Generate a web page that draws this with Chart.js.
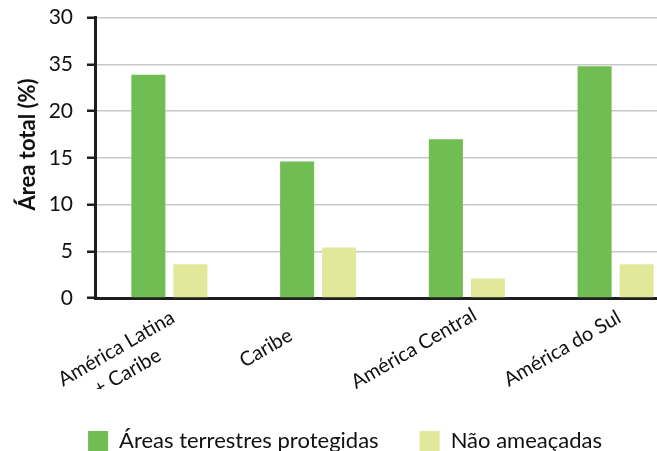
<!DOCTYPE html>
<html>
<head>
<meta charset="utf-8">
<script src="https://cdn.jsdelivr.net/npm/chart.js@4.4.1/dist/chart.umd.min.js"></script>
<style>
html,body{margin:0;padding:0;background:#fff;overflow:hidden;}
#wrap{position:absolute;left:0;top:0;width:692px;height:462px;}
</style>
</head>
<body>
<div id="wrap"><canvas id="c"></canvas></div>
<script>
const categories = [['América Latina', '+ Caribe'], 'Caribe', 'América Central', 'América do Sul'];
const protegidas = [23.9, 14.6, 17.0, 24.8];
const naoAmeacadas = [3.6, 5.4, 2.1, 3.6];
const yTickLabels = ['0', '5', '10', '15', '20', '35', '30'];
const seriesNames = ['Áreas terrestres protegidas', 'Não ameaçadas'];
const yTitle = 'Área total (%)';

const FONT = 'Lato';
const X_FONT_SIZE = 20;
const dark = '#1e1e1e';

// Centre each category label line (the source centres its rotated labels),
// by padding lines to a common width, since Chart.js right-aligns rotated text.
const mctx = document.createElement('canvas').getContext('2d');
mctx.font = X_FONT_SIZE + 'px ' + FONT;
const allLines = categories.flatMap(c => Array.isArray(c) ? c : [c]);
const maxW = Math.max(...allLines.map(s => mctx.measureText(s).width));
const spaceW = mctx.measureText(' ').width;
function centreLine(s) {
  const n = Math.max(0, Math.round((maxW - mctx.measureText(s).width) / 2 / spaceW));
  return s + ' '.repeat(n);
}

new Chart(document.getElementById('c'), {
  type: 'bar',
  data: {
    labels: categories,
    datasets: [
      { label: seriesNames[0], data: protegidas, backgroundColor: '#70BE53', borderWidth: 0 },
      { label: seriesNames[1], data: naoAmeacadas, backgroundColor: '#E2E899', borderWidth: 0 }
    ]
  },
  options: {
    responsive: true,
    maintainAspectRatio: false,
    animation: false,
    devicePixelRatio: 1,
    layout: { padding: { top: 10, right: 2, bottom: 0, left: 0 } },
    datasets: { bar: { categoryPercentage: 0.565, barPercentage: 0.81 } },
    plugins: {
      tooltip: { enabled: false },
      legend: {
        position: 'bottom',
        labels: {
          font: { family: FONT, size: 22 },
          color: '#111',
          boxWidth: 20,
          boxHeight: 20,
          padding: 41
        }
      }
    },
    scales: {
      x: {
        grid: { display: false, drawTicks: false },
        border: { display: true, color: dark, width: 3 },
        ticks: {
          color: '#111',
          font: { family: FONT, size: X_FONT_SIZE, lineHeight: 1.3 },
          minRotation: 30,
          maxRotation: 30,
          padding: 4,
          labelOffset: 8,
          autoSkip: false,
          callback: function (v, i) {
            const c = categories[i];
            return Array.isArray(c) ? c.map(centreLine) : centreLine(c);
          }
        },
        afterFit: (s) => { s.height = 91; }
      },
      y: {
        min: 0,
        max: 30,
        afterFit: (s) => { s.width = 95; },
        border: { display: true, color: dark, width: 3 },
        grid: { color: '#c8c8c8', lineWidth: 1.5, tickColor: dark, tickLength: 8, tickWidth: 2.5 },
        ticks: {
          stepSize: 5,
          color: '#111',
          font: { family: FONT, size: 21, lineHeight: 0.35 },
          padding: 14,
          callback: (v, i) => yTickLabels[i]
        },
        title: {
          display: true,
          text: '     ' + yTitle,
          color: '#111',
          font: { family: FONT, size: 22, weight: 'bold' },
          padding: { top: 15, bottom: 0 }
        }
      }
    }
  }
});
</script>
</body>
</html>
